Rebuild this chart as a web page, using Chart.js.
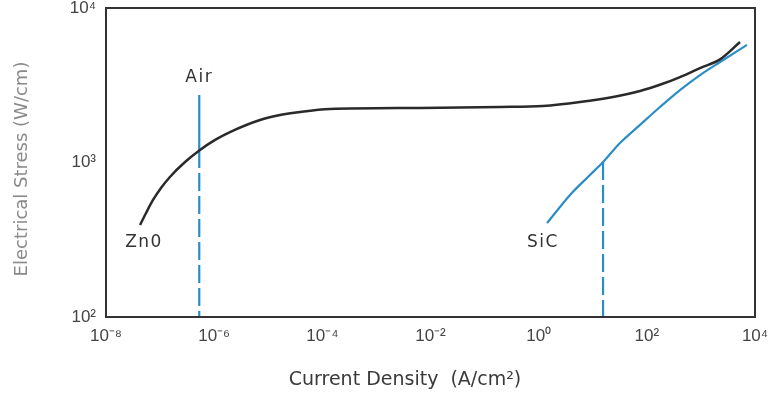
<!DOCTYPE html>
<html>
<head>
<meta charset="utf-8">
<script src="https://cdn.jsdelivr.net/npm/chart.js@4/dist/chart.umd.min.js"></script>
<style>
  html, body { margin: 0; padding: 0; background: #fff; }
  #wrap { width: 774px; height: 394px; }
</style>
</head>
<body>
<div id="wrap"><canvas id="myChart" width="774" height="394"></canvas></div>
<script>
// Datos (ejes logaritmicos)
const xExponentes = [-8, -6, -4, -2, 0, 2, 4];
const yExponentes = [2, 3, 4];

const znoX = [4.26e-8, 5.50e-8, 7.4e-8, 1.04e-7, 1.52e-7, 2.89e-7, 5.47e-7, 1.04e-6, 1.96e-6, 7.03e-6, 1.65e-5, 3.86e-5, 1.39e-4, 6.40e-3, 0.193, 1.20, 5.81, 23.7, 74.8, 191, 410, 962, 2254, 5280];
const znoY = [394, 471, 572, 684, 806, 1007, 1205, 1400, 1574, 1884, 2028, 2123, 2218, 2254, 2286, 2323, 2465, 2657, 2904, 3221, 3573, 4088, 4650, 6030];

const sicX = [1.43, 3.80, 8.89, 15.5, 31.9, 74.8, 175, 410, 962, 2254, 7110];
const sicY = [405, 617, 830, 1007, 1337, 1751, 2286, 2943, 3681, 4470, 5768];

const airX = 5.3e-7;
const airTop = 2735;
const airCruce = 1205;
const sicCorteX = 15.5;
const sicCorteY = 1007;

// etiquetas de las curvas [texto, x, y]
const etiquetas = [
  ['Air', 5.3e-7, 3525],
  ['Zn0', 5.05e-8, 301],
  ['SiC', 1.2, 301]
];

const sup = { '-': '\u207B', '0': '\u2070', '1': '\u00B9', '2': '\u00B2', '3': '\u00B3', '4': '\u2074', '5': '\u2075', '6': '\u2076', '7': '\u2077', '8': '\u2078', '9': '\u2079' };
function potencia(v) {
  const e = Math.round(Math.log10(v));
  return '10' + String(e).split('').map(c => sup[c]).join('');
}

function puntos(xs, ys) {
  return xs.map((x, i) => ({ x: x, y: ys[i] }));
}

const AZUL = '#2b8dc6';
const NEGRO = '#2a2a2a';
const FUENTE = 'Liberation Sans';

// Plugin: marco, titulos de ejes y etiquetas
const extras = {
  id: 'extras',
  afterDraw(chart) {
    const ctx = chart.ctx;
    const a = chart.chartArea;
    const xs = chart.scales.x;
    const ys = chart.scales.y;
    ctx.save();
    ctx.strokeStyle = '#333';
    ctx.lineWidth = 2;
    ctx.strokeRect(a.left, a.top, a.right - a.left, a.bottom - a.top);

    ctx.fillStyle = '#333';
    ctx.font = '17px "DejaVu Sans"';
    ctx.letterSpacing = '1.5px';
    ctx.textAlign = 'center';
    ctx.textBaseline = 'middle';
    etiquetas.forEach(function (e) {
      ctx.fillText(e[0], xs.getPixelForValue(e[1]), ys.getPixelForValue(e[2]));
    });
    ctx.letterSpacing = '0px';

    ctx.font = '19px "DejaVu Sans"';
    ctx.fillStyle = '#3a3a3a';
    ctx.fillText('Current Density  (A/cm\u00B2)', 405, 380);

    ctx.translate(22, 169);
    ctx.rotate(-Math.PI / 2);
    ctx.fillStyle = '#8a8a8a';
    ctx.font = '18px "DejaVu Sans"';
    ctx.fillText('Electrical Stress (W/cm)', 0, 0);
    ctx.restore();
  }
};

new Chart('myChart', {
  type: 'line',
  data: {
    datasets: [{
      label: 'ZnO',
      data: puntos(znoX, znoY),
      borderColor: NEGRO,
      borderWidth: 2.5,
      pointRadius: 0,
      cubicInterpolationMode: 'monotone',
      fill: false
    }, {
      label: 'SiC',
      data: puntos(sicX, sicY),
      borderColor: AZUL,
      borderWidth: 2.2,
      pointRadius: 0,
      cubicInterpolationMode: 'monotone',
      fill: false
    }, {
      label: 'Air',
      data: [{ x: airX, y: airTop }, { x: airX, y: airCruce }],
      borderColor: AZUL,
      borderWidth: 2.2,
      pointRadius: 0,
      fill: false
    }, {
      label: 'Air dashed',
      data: [{ x: airX, y: airCruce }, { x: airX, y: 100 }],
      borderColor: AZUL,
      borderWidth: 2.2,
      borderDash: [18, 5],
      pointRadius: 0,
      fill: false
    }, {
      label: 'SiC dashed',
      data: [{ x: sicCorteX, y: sicCorteY }, { x: sicCorteX, y: 100 }],
      borderColor: AZUL,
      borderWidth: 2.2,
      borderDash: [18, 5],
      pointRadius: 0,
      fill: false
    }]
  },
  options: {
    responsive: false,
    animation: false,
    layout: { padding: { left: 0, top: 8, right: 19, bottom: 0 } },
    plugins: {
      legend: { display: false },
      tooltip: { enabled: false }
    },
    scales: {
      x: {
        type: 'logarithmic',
        min: 1e-8,
        max: 1e4,
        grid: { display: false, drawTicks: false },
        border: { display: false },
        afterBuildTicks: function (scale) {
          scale.ticks = xExponentes.map(e => ({ value: Math.pow(10, e) }));
        },
        afterFit: function (scale) {
          scale.height = 77;
          scale.paddingLeft = 0;
          scale.paddingRight = 0;
        },
        ticks: {
          autoSkip: false,
          maxRotation: 0,
          padding: 9,
          color: '#444',
          font: { family: FUENTE, size: 17 },
          callback: function (v) { return potencia(v); }
        }
      },
      y: {
        type: 'logarithmic',
        min: 100,
        max: 10000,
        grid: { display: false, drawTicks: false },
        border: { display: false },
        afterBuildTicks: function (scale) {
          scale.ticks = yExponentes.map(e => ({ value: Math.pow(10, e) }));
        },
        afterFit: function (scale) {
          scale.width = 106;
          scale.paddingTop = 0;
          scale.paddingBottom = 0;
        },
        ticks: {
          autoSkip: false,
          padding: 10,
          color: '#444',
          font: { family: FUENTE, size: 17 },
          callback: function (v) { return potencia(v); }
        }
      }
    }
  },
  plugins: [extras]
});
</script>
</body>
</html>
